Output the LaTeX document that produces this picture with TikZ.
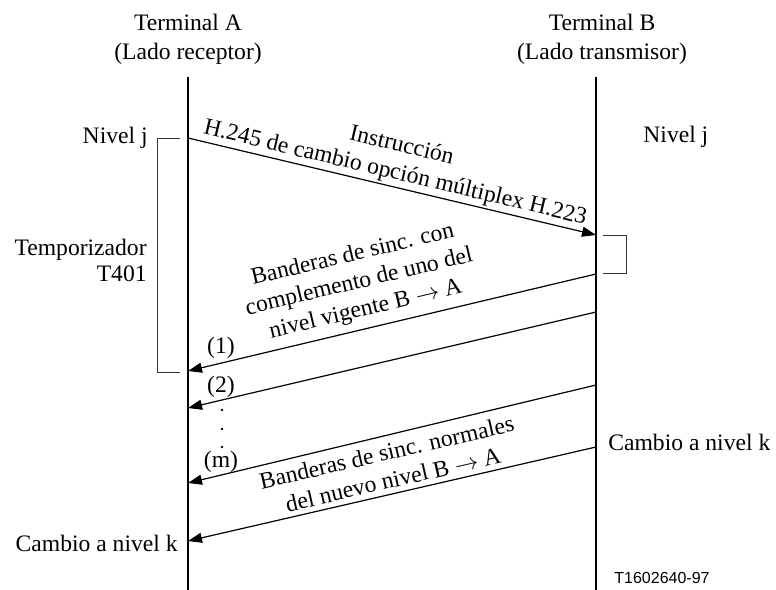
\documentclass[tikz,border=0pt]{standalone}
\usepackage{fontspec}
\setmainfont{Liberation Serif}
\setsansfont{Liberation Sans}
\usetikzlibrary{arrows.meta}

\begin{document}
\begin{tikzpicture}[x=0.5bp, y=-0.5bp,
    every node/.style={font=\fontsize{11.8bp}{13bp}\selectfont, inner sep=1bp},
    head/.style={align=center, font=\fontsize{11.8bp}{14.5bp}\selectfont},
    life/.style={line width=1.1bp},
    msg/.style={line width=0.6bp, -{Triangle[length=7bp,width=5bp]}},
    brk/.style={line width=0.5bp, black!80},
    lbl/.style={align=center, sloped, font=\fontsize{11.8bp}{14bp}\selectfont},
]
\useasboundingbox (0,0) rectangle (776,590);

\node[head] (ta) at (188,39) {Terminal A\\(Lado receptor)};
\node[head] (tb) at (602,39) {Terminal B\\(Lado transmisor)};

\coordinate (atop) at (188,77);
\coordinate (abot) at (188,590);
\coordinate (btop) at (596,77);
\coordinate (bbot) at (596,590);
\draw[life] (atop) -- (abot);
\draw[life] (btop) -- (bbot);

\coordinate (a1) at (188,138);
\coordinate (b1) at (596,235);
\coordinate (b2) at (596,274);
\coordinate (a2) at (188,371);
\coordinate (b3) at (596,312);
\coordinate (a3) at (188,408);
\coordinate (b4) at (596,385);
\coordinate (a4) at (188,483);
\coordinate (b5) at (596,447);
\coordinate (a5) at (188,541);

\draw[msg] (a1) -- node[lbl, above, midway] (l1) {Instrucción\\H.245 de cambio opción múltiplex H.223} (b1);
\draw[msg] (b2) -- node[lbl, above=2.5bp, pos=0.554] (l2) {Banderas de sinc. con\\complemento de uno del\\nivel vigente B $\rightarrow$ A} (a2);
\draw[msg] (b3) -- (a3);
\draw[msg] (b4) -- (a4);
\draw[msg] (b5) -- node[lbl, above=1.5bp, pos=0.49] (l3) {Banderas de sinc. normales\\del nuevo nivel B $\rightarrow$ A} (a5);

% temporizadores
\draw[brk] (180,139) -- (157,139) -- (157,372) -- (180,372);
\draw[brk] (603,236) -- (626,236) -- (626,274) -- (603,274);

\node[anchor=east] (nja) at (150,138) {Nivel j};
\node[anchor=west] (njb) at (641,137) {Nivel j};
\node[anchor=east, align=right] (tmr) at (149,260) {Temporizador\\T401};
\node[anchor=west] (ckb) at (606,442) {Cambio a nivel k};
\node[anchor=east] (cka) at (180,543) {Cambio a nivel k};

\node (n1) at (221,348) {(1)};
\node (n2) at (221,387) {(2)};
\node (nm) at (221,462) {(m)};
\foreach \y in {410,429,447}
  \fill (222,\y) circle[radius=0.65bp];

\node[anchor=west, font=\sffamily\fontsize{8bp}{9bp}\selectfont] (ref) at (612,578) {T1602640-97};
\end{tikzpicture}
\end{document}
